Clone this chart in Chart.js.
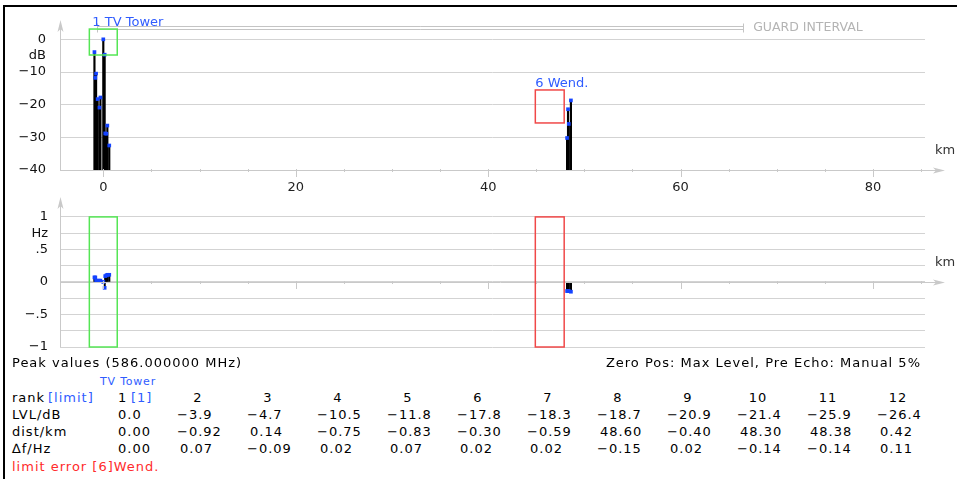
<!DOCTYPE html>
<html>
<head>
<meta charset="utf-8">
<script src="https://cdn.jsdelivr.net/npm/chart.js@4.4.0/dist/chart.umd.min.js"></script>
<style>
  body { margin: 0; background: #fff; width: 957px; height: 479px; overflow: hidden; position: relative; font-family: "DejaVu Sans", sans-serif; }
  #frame { position: absolute; left: 3px; top: 5px; right: 0; bottom: 0; border-left: 2px solid #000; border-top: 2px solid #000; }
  canvas { position: absolute; left: 0; }
  #echoChart { top: 0; }
  #freqChart { top: 190px; }
  .t { position: absolute; font-size: 13px; line-height: 16px; letter-spacing: 1px; white-space: pre; color: #000; }
  .blue { color: #2f5cff; }
  .red { color: #ff2b2b; }
  .small { font-size: 11px; letter-spacing: 0.8px; }
</style>
</head>
<body>
<div id="frame"></div>
<canvas id="echoChart" width="957" height="200"></canvas>
<canvas id="freqChart" width="957" height="170"></canvas>
<script>
// ---------------------------------------------------------
// DATA (read off the peak table and the plot)
// ---------------------------------------------------------
const echoRanks   = [1, 2, 3, 4, 5, 6, 7, 8, 9, 10, 11, 12];
const echoLevelsDb = [0.0, -3.9, -4.7, -10.5, -11.8, -17.8, -18.3, -18.7, -20.9, -21.4, -25.9, -26.4];
const echoDistKm   = [0.00, -0.92, 0.14, -0.75, -0.83, -0.30, -0.59, 48.60, -0.40, 48.30, 48.38, 0.42];
const echoDeltaHz  = [0.00, 0.07, -0.09, 0.02, 0.07, 0.02, 0.02, -0.15, 0.02, -0.14, -0.14, 0.11];

// weaker echoes that are plotted but not listed in the table
const minorLevelsDb = [-28.8, -28.9, -32.5, -30.2];
const minorDistKm   = [0.20, 0.32, 0.62, 48.20];
const minorDeltaHz  = [0.09, 0.10, 0.11, -0.14];

// axes
const kmRange = [-4.5, 85.4];
const kmTicks = [0, 5, 10, 15, 20, 25, 30, 35, 40, 45, 50, 55, 60, 65, 70, 75, 80, 85];
const kmTickLabels = ['0', '', '', '', '20', '', '', '', '40', '', '', '', '60', '', '', '', '80', ''];
const dbRange = [-40, 5];
const dbTicks = [-40, -30, -20, -10, -5, 0];
const dbTickLabels = ['−40', '−30', '−20', '−10', 'dB', '0'];
const hzRange = [-1, 1.26];
const hzTicks = [-1, -0.75, -0.5, -0.25, 0, 0.25, 0.5, 0.75, 1];
const hzTickLabels = ['−1', '', '−.5', '', '0', '', '.5', 'Hz', '1'];

// limit boxes, labels and guard interval
const boxLabels = ['1 TV Tower', '6 Wend.'];
const tvBoxKm = [-1.45, 1.45];
const tvBoxDb = [3.15, -4.8];
const wendBoxKm = [44.9, 47.9];
const wendBoxDb = [-15.5, -25.6];
const boxHz = [1, -1];
const guardKm = [-0.62, 66.5];
const guardDb = [4.07, 3.15];

// table header texts
const peakTitle = 'Peak values (586.000000 MHz)';
const zeroPosText = 'Zero Pos: Max Level, Pre Echo: Manual 5%';
const limitErrorText = 'limit error [6]Wend.';

// ---------------------------------------------------------
// HELPERS
// ---------------------------------------------------------
const AXIS = '#c9c9c9';
const GRID = '#d3d3d3';
const MARK = '#1443ff';
const FONT = { family: 'DejaVu Sans', size: 13 };

const allDist = echoDistKm.concat(minorDistKm);
const allLevels = echoLevelsDb.concat(minorLevelsDb);
const allDelta = echoDeltaHz.concat(minorDeltaHz);

function minus(s) { return s.replace('-', '−'); }

// y axis: fixed width, no extra room for the end labels
function fixYAxis(s) {
    s.width = 60;
    s.paddingTop = 0;
    s.paddingBottom = 0;
}

function drawAxes(ctx, a, x, yAxisPix, unitY) {
    ctx.strokeStyle = AXIS;
    ctx.fillStyle = AXIS;
    ctx.lineWidth = 1;
    // horizontal axis + arrow
    ctx.beginPath();
    ctx.moveTo(a.left, yAxisPix + 0.5);
    ctx.lineTo(a.right + 16, yAxisPix + 0.5);
    ctx.stroke();
    const tx = a.right + 20;
    ctx.beginPath();
    ctx.moveTo(tx, yAxisPix + 0.5);
    ctx.lineTo(tx - 12, yAxisPix - 2.5);
    ctx.lineTo(tx - 9, yAxisPix + 0.5);
    ctx.lineTo(tx - 12, yAxisPix + 3.5);
    ctx.closePath();
    ctx.fill();
    // vertical axis + arrow
    const ax = Math.round(a.left) + 0.5;
    ctx.beginPath();
    ctx.moveTo(ax, a.bottom);
    ctx.lineTo(ax, a.top - 1);
    ctx.stroke();
    const ty = a.top - 3;
    ctx.beginPath();
    ctx.moveTo(ax, ty);
    ctx.lineTo(ax - 3, ty + 12);
    ctx.lineTo(ax, ty + 9);
    ctx.lineTo(ax + 3, ty + 12);
    ctx.closePath();
    ctx.fill();
    // km ticks
    kmTicks.forEach((v, i) => {
        const px = Math.round(x.getPixelForValue(v)) + 0.5;
        const major = kmTickLabels[i] !== '';
        ctx.beginPath();
        ctx.moveTo(px, yAxisPix - 1);
        ctx.lineTo(px, yAxisPix + (major ? 7 : 2));
        ctx.stroke();
    });
    // unit
    ctx.fillStyle = '#333';
    ctx.font = '13px "DejaVu Sans"';
    ctx.textAlign = 'left';
    ctx.textBaseline = 'middle';
    ctx.fillText('km', a.right + 10, unitY);
}

function drawBox(ctx, x, y, kms, vals, color) {
    const x1 = x.getPixelForValue(kms[0]), x2 = x.getPixelForValue(kms[1]);
    const y1 = y.getPixelForValue(vals[0]), y2 = y.getPixelForValue(vals[1]);
    ctx.strokeStyle = color;
    ctx.lineWidth = 1.5;
    ctx.strokeRect(x1, y1, x2 - x1, y2 - y1);
    return { left: x1, top: y1 };
}

// ---------------------------------------------------------
// ECHO LEVEL CHART
// ---------------------------------------------------------
const echoDecor = {
    id: 'echoDecor',
    afterDraw(chart) {
        const { ctx, chartArea: a, scales: { x, y } } = chart;
        ctx.save();
        drawAxes(ctx, a, x, Math.round(a.bottom), a.bottom - 19);

        // guard interval
        const g1 = x.getPixelForValue(guardKm[0]), g2 = x.getPixelForValue(guardKm[1]);
        const gy1 = Math.round(y.getPixelForValue(guardDb[0])) + 0.5;
        const gy2 = Math.round(y.getPixelForValue(guardDb[1])) + 0.5;
        ctx.strokeStyle = '#c4c4c4';
        ctx.lineWidth = 1;
        ctx.beginPath();
        ctx.moveTo(g1, gy1); ctx.lineTo(g2, gy1);
        ctx.moveTo(g1, gy2); ctx.lineTo(g2, gy2);
        ctx.moveTo(Math.round(g1) + 0.5, gy1 - 3); ctx.lineTo(Math.round(g1) + 0.5, gy2 + 3);
        ctx.moveTo(Math.round(g2) + 0.5, gy1 - 3); ctx.lineTo(Math.round(g2) + 0.5, gy2 + 3);
        ctx.stroke();
        ctx.fillStyle = '#b4b4b4';
        ctx.font = '12.5px "DejaVu Sans"';
        ctx.textAlign = 'left';
        ctx.textBaseline = 'middle';
        ctx.fillText('GUARD INTERVAL', g2 + 10, (gy1 + gy2) / 2);

        // limit boxes with their labels
        const tv = drawBox(ctx, x, y, tvBoxKm, tvBoxDb, '#55e655');
        const wd = drawBox(ctx, x, y, wendBoxKm, wendBoxDb, '#f04848');
        ctx.fillStyle = '#2f5cff';
        ctx.font = '13px "DejaVu Sans"';
        ctx.fillText(boxLabels[0], tv.left + 3, tv.top - 6);
        ctx.fillText(boxLabels[1], wd.left, wd.top - 6);
        ctx.restore();
    }
};

new Chart(document.getElementById('echoChart'), {
    type: 'bar',
    data: {
        datasets: [{
            type: 'bar',
            data: allDist.map((d, i) => ({ x: d, y: [dbRange[0], allLevels[i]] })),
            backgroundColor: '#000',
            barThickness: 1.5,
            order: 2
        }, {
            type: 'scatter',
            data: allDist.map((d, i) => ({ x: d, y: allLevels[i] })),
            pointStyle: 'rect',
            pointRadius: 2.6,
            backgroundColor: MARK,
            borderWidth: 0,
            order: 1
        }]
    },
    options: {
        responsive: false,
        animation: false,
        devicePixelRatio: 1,
        events: [],
        layout: { padding: { top: 23, right: 32, bottom: 0, left: 0 } },
        plugins: { legend: { display: false }, tooltip: { enabled: false } },
        scales: {
            x: {
                type: 'linear', min: kmRange[0], max: kmRange[1], offset: false,
                afterBuildTicks: s => { s.ticks = kmTicks.map(v => ({ value: v })); },
                afterFit: s => { s.height = 30; s.paddingLeft = 0; s.paddingRight = 0; },
                grid: { display: false, drawTicks: false },
                border: { display: false },
                ticks: { autoSkip: false, maxRotation: 0, padding: 10, color: '#222', font: FONT,
                         callback: (v, i) => kmTickLabels[i] }
            },
            y: {
                type: 'linear', min: dbRange[0], max: dbRange[1],
                afterBuildTicks: s => { s.ticks = dbTicks.map(v => ({ value: v })); },
                afterFit: fixYAxis,
                grid: { drawTicks: false, color: c => dbTickLabels[c.index] === 'dB' ? 'rgba(0,0,0,0)' : GRID },
                border: { display: false },
                ticks: { autoSkip: false, padding: 14, color: '#111', font: FONT,
                         callback: (v, i) => dbTickLabels[i] }
            }
        }
    },
    plugins: [echoDecor]
});

// ---------------------------------------------------------
// FREQUENCY OFFSET CHART
// ---------------------------------------------------------
const freqDecor = {
    id: 'freqDecor',
    afterDraw(chart) {
        const { ctx, chartArea: a, scales: { x, y } } = chart;
        ctx.save();
        const zero = Math.round(y.getPixelForValue(0));
        drawAxes(ctx, a, x, zero, zero - 19);
        drawBox(ctx, x, y, tvBoxKm, boxHz, '#55e655');
        drawBox(ctx, x, y, wendBoxKm, boxHz, '#f04848');
        ctx.restore();
    }
};

new Chart(document.getElementById('freqChart'), {
    type: 'bar',
    data: {
        datasets: [{
            type: 'bar',
            data: allDist.map((d, i) => ({ x: d, y: [0, allDelta[i]] })),
            backgroundColor: '#000',
            barThickness: 1.5,
            order: 2
        }, {
            type: 'scatter',
            data: allDist.map((d, i) => ({ x: d, y: allDelta[i] })),
            pointStyle: 'rect',
            pointRadius: 2.6,
            backgroundColor: MARK,
            borderWidth: 0,
            order: 1
        }]
    },
    options: {
        responsive: false,
        animation: false,
        devicePixelRatio: 1,
        events: [],
        layout: { padding: { top: 10, right: 32, bottom: 13, left: 0 } },
        plugins: { legend: { display: false }, tooltip: { enabled: false } },
        scales: {
            x: { type: 'linear', min: kmRange[0], max: kmRange[1], offset: false, display: false },
            y: {
                type: 'linear', min: hzRange[0], max: hzRange[1],
                afterBuildTicks: s => { s.ticks = hzTicks.map(v => ({ value: v })); },
                afterFit: fixYAxis,
                grid: { drawTicks: false, color: GRID },
                border: { display: false },
                ticks: { autoSkip: false, padding: 12, color: '#111', font: FONT,
                         callback: (v, i) => hzTickLabels[i] }
            }
        }
    },
    plugins: [freqDecor]
});

// ---------------------------------------------------------
// PEAK TABLE
// ---------------------------------------------------------
function addText(txt, x, yc, cls) {
    const d = document.createElement('div');
    d.className = 't' + (cls ? ' ' + cls : '');
    d.textContent = txt;
    d.style.left = x + 'px';
    d.style.top = (yc - 8) + 'px';
    document.body.appendChild(d);
    return d;
}

const colLeft = echoRanks.map((r, i) => i === 0 ? 115 : 177 + (i - 1) * 70);
const rowY = { title: 363, name: 382, rank: 398, lvl: 415, dist: 432, df: 449, err: 467 };

addText(peakTitle, 12, rowY.title);
const zp = addText(zeroPosText, 0, rowY.title);
zp.style.left = 'auto';
zp.style.right = '36px';

addText('TV Tower', 100, rowY.name, 'blue small');

addText('rank', 12, rowY.rank);
addText('[limit]', 48, rowY.rank, 'blue');
echoRanks.forEach((r, i) => {
    if (i === 0) {
        addText(String(r), 118, rowY.rank);
        addText('[' + r + ']', 131, rowY.rank, 'blue');
    } else {
        const d = addText(String(r), colLeft[i], rowY.rank);
        d.style.width = '42px';
        d.style.textAlign = 'center';
    }
});

function valueRow(label, values, digits, yc) {
    addText(label, 12, yc);
    values.forEach((v, i) => {
        addText(minus(v.toFixed(digits)), colLeft[i] + (v < 0 ? 0 : 3), yc);
    });
}
valueRow('LVL/dB', echoLevelsDb, 1, rowY.lvl);
valueRow('dist/km', echoDistKm, 2, rowY.dist);
valueRow('∆f/Hz', echoDeltaHz, 2, rowY.df);

addText(limitErrorText, 12, rowY.err, 'red');
</script>
</body>
</html>
